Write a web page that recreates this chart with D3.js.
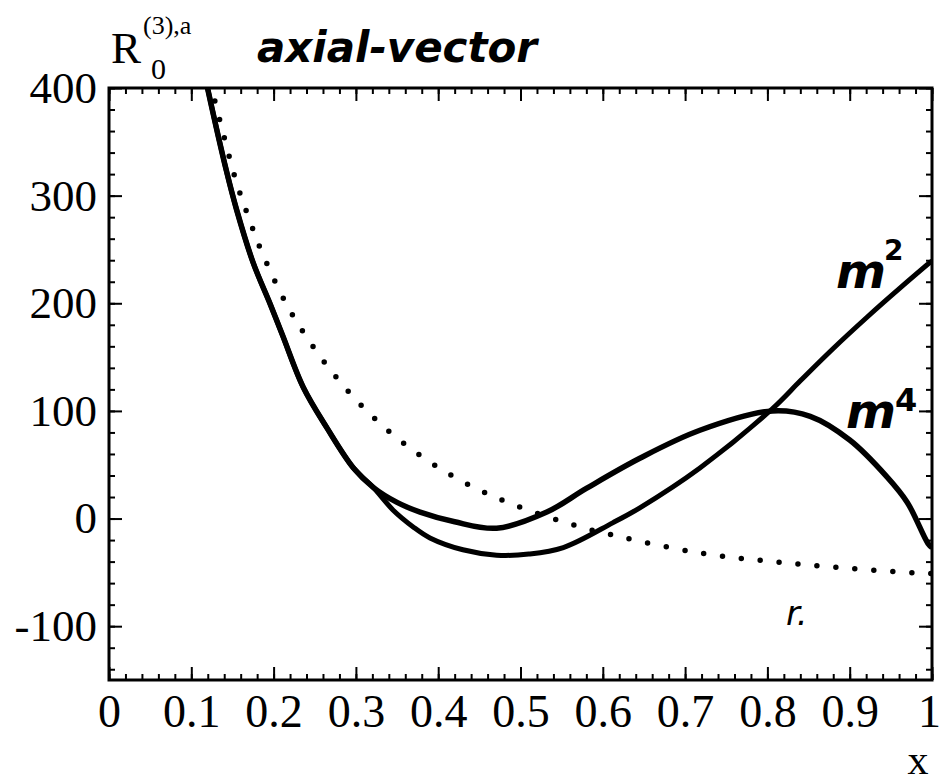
<!DOCTYPE html>
<html>
<head>
<meta charset="utf-8">
<script src="https://cdn.jsdelivr.net/npm/d3@7"></script>
<style>
  body { margin: 0; background: #fff; }
</style>
</head>
<body>
<div id="chart"></div>
<script>
// -------------------- DATA --------------------

// courbe m^2 (x, R)
const m2X = [0.117, 0.120, 0.143, 0.155, 0.175, 0.196, 0.211, 0.236, 0.265, 0.297, 0.321, 0.345, 0.37, 0.39, 0.43, 0.471, 0.51, 0.552, 0.612, 0.645, 0.718, 0.806, 0.84, 0.88, 0.921, 0.961, 0.998, 1.0];
const m2Y = [410, 399, 322, 287, 238, 199, 170, 122, 84, 47, 29, 8, -8, -18, -29, -34, -33, -27, -4, 10, 47, 102, 128, 158, 187, 214, 238, 239];

// courbe m^4
const m4X = [0.117, 0.120, 0.143, 0.155, 0.175, 0.196, 0.211, 0.236, 0.265, 0.297, 0.321, 0.35, 0.378, 0.42, 0.471, 0.532, 0.58, 0.645, 0.718, 0.806, 0.852, 0.90, 0.945, 0.97, 0.995, 1.0];
const m4Y = [410, 399, 322, 287, 238, 199, 170, 122, 84, 47, 29, 15, 6, -3, -9, 6, 28, 56, 82, 100, 95, 73, 39, 15, -23, -27];

// courbe en pointillés
const dotX = [0.123, 0.137, 0.155, 0.17, 0.186, 0.215, 0.238, 0.264, 0.292, 0.324, 0.358, 0.414, 0.475, 0.56, 0.627, 0.718, 0.806, 0.897, 0.989, 1.0];
const dotY = [405, 363, 312, 279, 247, 200, 171, 143, 117, 92, 70, 41, 18, -5, -18, -32, -40, -46, -51, -51];

// graduations
const xTickLabels = [0, 0.1, 0.2, 0.3, 0.4, 0.5, 0.6, 0.7, 0.8, 0.9, 1];
const yTickLabels = [400, 300, 200, 100, 0, -100];

// -------------------- GRAPHIQUE --------------------

const width = 940;
const height = 784;
const plot = { left: 109, right: 932, top: 88, bottom: 680 };

const x = d3.scaleLinear().domain([0, 1]).range([plot.left, plot.right]);
const y = d3.scaleLinear().domain([-150, 400]).range([plot.bottom, plot.top]);

const svg = d3.select("#chart")
  .append("svg")
  .attr("width", width)
  .attr("height", height)
  .style("background", "#fff");

svg.append("defs").append("clipPath")
  .attr("id", "clip")
  .append("rect")
  .attr("x", plot.left)
  .attr("y", plot.top)
  .attr("width", plot.right - plot.left)
  .attr("height", plot.bottom - plot.top);

const serif = "'Liberation Serif', 'Times New Roman', serif";

// graduations mineures (toutes les 0.02 et 20)
const xMinor = d3.range(0, 1.0001, 0.02).map(d => +d.toFixed(2));
const yMinor = d3.range(-140, 401, 20);

function drawAxis(axis, tx, ty) {
  const g = svg.append("g")
    .attr("transform", "translate(" + tx + "," + ty + ")")
    .call(axis);
  g.select(".domain").remove();
  g.selectAll("line").attr("stroke", "#000").attr("stroke-width", 2);
  return g;
}

// bas
drawAxis(d3.axisBottom(x).tickValues(xMinor).tickSize(-6).tickFormat(""), 0, plot.bottom);
const gx = drawAxis(d3.axisBottom(x).tickValues(xTickLabels).tickSize(-13).tickPadding(14)
  .tickFormat(d => d === 0 ? "0" : d === 1 ? "1" : d3.format(".1f")(d)), 0, plot.bottom);
gx.selectAll("text")
  .style("font-family", serif)
  .style("font-size", "46px")
  .attr("fill", "#000")
  .attr("dx", d => d === 1 ? -3 : 0);

// haut
drawAxis(d3.axisTop(x).tickValues(xMinor).tickSize(-6).tickFormat(""), 0, plot.top);
drawAxis(d3.axisTop(x).tickValues(xTickLabels).tickSize(-13).tickFormat(""), 0, plot.top);

// gauche
drawAxis(d3.axisLeft(y).tickValues(yMinor).tickSize(-6).tickFormat(""), plot.left, 0);
const gy = drawAxis(d3.axisLeft(y).tickValues(yTickLabels).tickSize(-13).tickPadding(12)
  .tickFormat(d => String(d)), plot.left, 0);
gy.selectAll("text")
  .style("font-family", serif)
  .style("font-size", "45px")
  .attr("fill", "#000");

// droite
drawAxis(d3.axisRight(y).tickValues(yMinor).tickSize(-6).tickFormat(""), plot.right, 0);
drawAxis(d3.axisRight(y).tickValues(yTickLabels).tickSize(-13).tickFormat(""), plot.right, 0);

// cadre
svg.append("rect")
  .attr("x", plot.left)
  .attr("y", plot.top)
  .attr("width", plot.right - plot.left)
  .attr("height", plot.bottom - plot.top)
  .attr("fill", "none")
  .attr("stroke", "#000")
  .attr("stroke-width", 3);

// courbes
const line = d3.line()
  .x(d => x(d[0]))
  .y(d => y(d[1]))
  .curve(d3.curveCatmullRom.alpha(0.5));

const curves = svg.append("g").attr("clip-path", "url(#clip)");

curves.append("path")
  .datum(d3.zip(dotX, dotY))
  .attr("d", line)
  .attr("fill", "none")
  .attr("stroke", "#000")
  .attr("stroke-width", 5.5)
  .attr("stroke-linecap", "round")
  .attr("stroke-dasharray", "0 19");

curves.append("path")
  .datum(d3.zip(m2X, m2Y))
  .attr("d", line)
  .attr("fill", "none")
  .attr("stroke", "#000")
  .attr("stroke-width", 5);

curves.append("path")
  .datum(d3.zip(m4X, m4Y))
  .attr("d", line)
  .attr("fill", "none")
  .attr("stroke", "#000")
  .attr("stroke-width", 5.5);

// titre de l'axe y
svg.append("text")
  .attr("x", 111)
  .attr("y", 63)
  .style("font-family", serif)
  .style("font-size", "45px")
  .text("R");
svg.append("text")
  .attr("x", 143)
  .attr("y", 34)
  .style("font-family", serif)
  .style("font-size", "26px")
  .text("(3),a");
svg.append("text")
  .attr("x", 151)
  .attr("y", 79)
  .style("font-family", serif)
  .style("font-size", "30px")
  .text("0");

// titre de l'axe x
svg.append("text")
  .attr("x", 918)
  .attr("y", 774)
  .attr("text-anchor", "middle")
  .style("font-family", serif)
  .style("font-size", "42px")
  .text("x");

// annotations manuscrites
const hand = "'DejaVu Sans', sans-serif";

svg.append("text")
  .attr("x", 257)
  .attr("y", 62)
  .attr("textLength", 280)
  .attr("lengthAdjust", "spacingAndGlyphs")
  .style("font-family", hand)
  .style("font-style", "italic")
  .style("font-weight", "bold")
  .style("font-size", "42px")
  .text("axial-vector");

svg.append("text")
  .attr("x", 836)
  .attr("y", 288)
  .style("font-family", hand)
  .style("font-style", "italic")
  .style("font-weight", "bold")
  .style("font-size", "48px")
  .text("m");
svg.append("text")
  .attr("x", 884)
  .attr("y", 260)
  .style("font-family", hand)
  .style("font-weight", "bold")
  .style("font-size", "28px")
  .text("2");

svg.append("text")
  .attr("x", 846)
  .attr("y", 428)
  .style("font-family", hand)
  .style("font-style", "italic")
  .style("font-weight", "bold")
  .style("font-size", "48px")
  .text("m");
svg.append("text")
  .attr("x", 895)
  .attr("y", 411)
  .style("font-family", hand)
  .style("font-weight", "bold")
  .style("font-size", "32px")
  .text("4");

svg.append("text")
  .attr("x", 786)
  .attr("y", 625)
  .style("font-family", hand)
  .style("font-style", "italic")
  .style("font-size", "34px")
  .text("r.");
</script>
</body>
</html>
